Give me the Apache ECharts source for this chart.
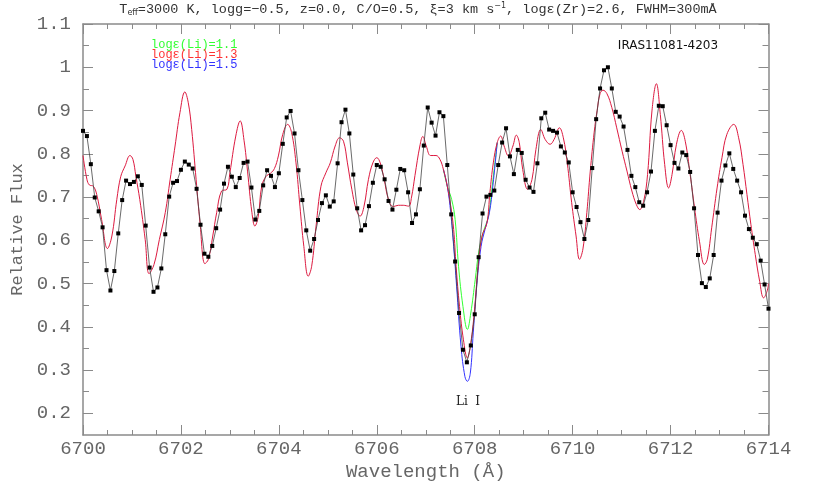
<!DOCTYPE html>
<html>
<head>
<meta charset="utf-8">
<script src="https://cdn.jsdelivr.net/npm/echarts@6.0.0/dist/echarts.min.js"></script>
<style>
  html, body { margin: 0; padding: 0; background: #fff; }
  #lineChart { width: 817px; height: 491px; }
</style>
</head>
<body>
<div id="lineChart"></div>
<script>
// observed spectrum (IRAS11081-4203)
const obsWave = [
  6700.00, 6700.08, 6700.16, 6700.24, 6700.32, 6700.40, 6700.48, 6700.56, 6700.64, 6700.72,
  6700.80, 6700.88, 6700.96, 6701.04, 6701.12, 6701.20, 6701.28, 6701.36, 6701.44, 6701.52,
  6701.60, 6701.68, 6701.76, 6701.84, 6701.92, 6702.00, 6702.08, 6702.16, 6702.24, 6702.32,
  6702.40, 6702.48, 6702.56, 6702.64, 6702.72, 6702.80, 6702.88, 6702.96, 6703.04, 6703.12,
  6703.20, 6703.28, 6703.36, 6703.44, 6703.52, 6703.60, 6703.68, 6703.76, 6703.84, 6703.92,
  6704.00, 6704.08, 6704.16, 6704.24, 6704.32, 6704.40, 6704.48, 6704.56, 6704.64, 6704.72,
  6704.80, 6704.88, 6704.96, 6705.04, 6705.12, 6705.20, 6705.28, 6705.36, 6705.44, 6705.52,
  6705.60, 6705.68, 6705.76, 6705.84, 6705.92, 6706.00, 6706.08, 6706.16, 6706.24, 6706.32,
  6706.40, 6706.48, 6706.56, 6706.64, 6706.72, 6706.80, 6706.88, 6706.96, 6707.04, 6707.12,
  6707.20, 6707.28, 6707.36, 6707.44, 6707.52, 6707.60, 6707.68, 6707.76, 6707.84, 6707.92,
  6708.00, 6708.08, 6708.16, 6708.24, 6708.32, 6708.40, 6708.48, 6708.56, 6708.64, 6708.72,
  6708.80, 6708.88, 6708.96, 6709.04, 6709.12, 6709.20, 6709.28, 6709.36, 6709.44, 6709.52,
  6709.60, 6709.68, 6709.76, 6709.84, 6709.92, 6710.00, 6710.08, 6710.16, 6710.24, 6710.32,
  6710.40, 6710.48, 6710.56, 6710.64, 6710.72, 6710.80, 6710.88, 6710.96, 6711.04, 6711.12,
  6711.20, 6711.28, 6711.36, 6711.44, 6711.52, 6711.60, 6711.68, 6711.76, 6711.84, 6711.92,
  6712.00, 6712.08, 6712.16, 6712.24, 6712.32, 6712.40, 6712.48, 6712.56, 6712.64, 6712.72,
  6712.80, 6712.88, 6712.96, 6713.04, 6713.12, 6713.20, 6713.28, 6713.36, 6713.44, 6713.52,
  6713.60, 6713.68, 6713.76, 6713.84, 6713.92, 6714.00
];
const obsFlux = [
  0.853, 0.841, 0.776, 0.699, 0.667, 0.630, 0.531, 0.484, 0.529, 0.616,
  0.693, 0.738, 0.730, 0.735, 0.748, 0.728, 0.634, 0.537, 0.481, 0.491,
  0.535, 0.614, 0.701, 0.733, 0.737, 0.763, 0.782, 0.775, 0.766, 0.719,
  0.636, 0.569, 0.562, 0.587, 0.628, 0.671, 0.731, 0.770, 0.747, 0.723,
  0.744, 0.779, 0.782, 0.722, 0.648, 0.668, 0.727, 0.762, 0.749, 0.723,
  0.755, 0.823, 0.884, 0.899, 0.847, 0.762, 0.693, 0.623, 0.576, 0.603,
  0.647, 0.686, 0.704, 0.678, 0.690, 0.778, 0.873, 0.902, 0.847, 0.752,
  0.674, 0.623, 0.635, 0.679, 0.733, 0.774, 0.770, 0.741, 0.691, 0.671,
  0.717, 0.765, 0.762, 0.711, 0.640, 0.660, 0.718, 0.819, 0.907, 0.872,
  0.842, 0.896, 0.887, 0.774, 0.660, 0.551, 0.432, 0.347, 0.318, 0.357,
  0.429, 0.561, 0.662, 0.701, 0.705, 0.715, 0.774, 0.826, 0.859, 0.794,
  0.753, 0.809, 0.802, 0.740, 0.722, 0.712, 0.778, 0.882, 0.895, 0.856,
  0.853, 0.849, 0.817, 0.803, 0.780, 0.711, 0.677, 0.642, 0.603, 0.647,
  0.767, 0.880, 0.951, 0.993, 1.000, 0.951, 0.897, 0.886, 0.863, 0.809,
  0.749, 0.723, 0.688, 0.680, 0.711, 0.759, 0.853, 0.911, 0.910, 0.866,
  0.820, 0.779, 0.766, 0.803, 0.797, 0.758, 0.674, 0.566, 0.501, 0.492,
  0.512, 0.566, 0.664, 0.738, 0.773, 0.801, 0.765, 0.738, 0.711, 0.657,
  0.626, 0.606, 0.591, 0.553, 0.498, 0.442
];

// synthetic spectrum, logε(Li)=1.3 (the other two coincide with it away from the Li line)
const modelWave = [
  6700.00, 6700.08, 6700.13, 6700.21, 6700.28, 6700.38, 6700.50, 6700.59, 6700.69, 6700.77,
  6700.86, 6700.96, 6701.02, 6701.08, 6701.16, 6701.27, 6701.35, 6701.45, 6701.56, 6701.68,
  6701.78, 6701.88, 6701.98, 6702.08, 6702.15, 6702.22, 6702.31, 6702.39, 6702.49, 6702.56,
  6702.65, 6702.73, 6702.83, 6702.94, 6703.00, 6703.12, 6703.21, 6703.29, 6703.36, 6703.45,
  6703.51, 6703.58, 6703.65, 6703.74, 6703.83, 6703.91, 6703.99, 6704.08, 6704.18, 6704.26,
  6704.35, 6704.43, 6704.51, 6704.60, 6704.67, 6704.76, 6704.86, 6704.96, 6705.05, 6705.15,
  6705.24, 6705.32, 6705.40, 6705.49, 6705.58, 6705.66, 6705.74, 6705.83, 6705.92, 6706.00,
  6706.07, 6706.15, 6706.24, 6706.34, 6706.44, 6706.54, 6706.65, 6706.71, 6706.78, 6706.88,
  6706.94, 6707.01, 6707.10, 6707.21, 6707.29, 6707.36, 6707.44, 6707.51, 6707.57, 6707.62,
  6707.69, 6707.77, 6707.85, 6707.92, 6707.99, 6708.07, 6708.15, 6708.25, 6708.31, 6708.38,
  6708.46, 6708.53, 6708.60, 6708.69, 6708.78, 6708.85, 6708.91, 6708.98, 6709.08, 6709.17,
  6709.25, 6709.35, 6709.44, 6709.54, 6709.62, 6709.73, 6709.81, 6709.89, 6709.98, 6710.07,
  6710.14, 6710.21, 6710.29, 6710.36, 6710.44, 6710.50, 6710.56, 6710.62, 6710.70, 6710.80,
  6710.90, 6711.01, 6711.11, 6711.21, 6711.30, 6711.37, 6711.45, 6711.53, 6711.62, 6711.71,
  6711.79, 6711.88, 6711.96, 6712.03, 6712.12, 6712.22, 6712.30, 6712.40, 6712.49, 6712.59,
  6712.69, 6712.75, 6712.84, 6712.95, 6713.05, 6713.15, 6713.29, 6713.39, 6713.48, 6713.56,
  6713.64, 6713.73, 6713.82, 6713.90, 6713.97, 6714.00
];
const fluxLi13 = [
  0.796, 0.741, 0.728, 0.725, 0.706, 0.648, 0.581, 0.610, 0.694, 0.747,
  0.772, 0.796, 0.787, 0.748, 0.694, 0.602, 0.523, 0.544, 0.602, 0.664,
  0.741, 0.818, 0.895, 0.943, 0.918, 0.856, 0.741, 0.640, 0.546, 0.556,
  0.610, 0.664, 0.714, 0.718, 0.756, 0.841, 0.876, 0.830, 0.760, 0.664,
  0.633, 0.656, 0.725, 0.748, 0.755, 0.766, 0.795, 0.845, 0.868, 0.849,
  0.779, 0.679, 0.586, 0.517, 0.540, 0.633, 0.725, 0.756, 0.779, 0.818,
  0.837, 0.829, 0.779, 0.718, 0.671, 0.656, 0.679, 0.741, 0.779, 0.791,
  0.779, 0.741, 0.694, 0.678, 0.681, 0.681, 0.679, 0.700, 0.750, 0.818,
  0.840, 0.818, 0.796, 0.796, 0.787, 0.764, 0.725, 0.679, 0.625, 0.540,
  0.447, 0.370, 0.328, 0.363, 0.432, 0.540, 0.610, 0.640, 0.710, 0.779,
  0.826, 0.841, 0.818, 0.795, 0.818, 0.843, 0.826, 0.764, 0.718, 0.741,
  0.810, 0.856, 0.833, 0.822, 0.833, 0.860, 0.837, 0.779, 0.687, 0.610,
  0.556, 0.580, 0.664, 0.760, 0.850, 0.900, 0.939, 0.947, 0.939, 0.907,
  0.860, 0.806, 0.760, 0.714, 0.683, 0.671, 0.690, 0.752, 0.899, 0.962,
  0.891, 0.775, 0.721, 0.752, 0.822, 0.854, 0.829, 0.752, 0.675, 0.598,
  0.544, 0.556, 0.629, 0.721, 0.791, 0.845, 0.868, 0.837, 0.775, 0.706,
  0.637, 0.567, 0.505, 0.467, 0.482, 0.500
];

// logε(Li)=1.1 and 1.5 around the Li I 6707.8 line
const waveLi11 = [6707.36, 6707.44, 6707.53, 6707.60, 6707.67, 6707.76, 6707.85, 6707.92, 6708.01, 6708.08, 6708.17, 6708.28, 6708.35, 6708.46];
const fluxLi11 = [0.764, 0.725, 0.694, 0.648, 0.540, 0.447, 0.394, 0.432, 0.509, 0.571, 0.617, 0.656, 0.718, 0.826];
const waveLi15 = [6707.36, 6707.44, 6707.51, 6707.57, 6707.63, 6707.72, 6707.80, 6707.85, 6707.91, 6707.97, 6708.04, 6708.13, 6708.21, 6708.30, 6708.37, 6708.46];
const fluxLi15 = [0.764, 0.725, 0.664, 0.586, 0.494, 0.355, 0.285, 0.274, 0.293, 0.386, 0.494, 0.586, 0.625, 0.664, 0.725, 0.826];

const yMajorTicks = [0.2, 0.3, 0.4, 0.5, 0.6, 0.7, 0.8, 0.9, 1.0, 1.1];
const yMinorTicks = [0.25, 0.35, 0.45, 0.55, 0.65, 0.75, 0.85, 0.95, 1.05];
const legendLabels = ['logε(Li)=1.1', 'logε(Li)=1.3', 'logε(Li)=1.5'];

const axisGray = '#8a8a8a';
const labelGray = '#666';
const tickFont = 'Liberation Mono';

function pairs(xs, ys) {
  return xs.map((x, i) => [x, ys[i]]);
}

function xAxisCfg(pos, showLabel) {
  return {
    type: 'value', position: pos, min: 6700, max: 6714, interval: 2,
    axisLine: { onZero: false, lineStyle: { color: axisGray, width: 1.5 } },
    axisTick: { inside: true, length: 10, lineStyle: { color: axisGray } },
    minorTick: { show: true, splitNumber: 4, length: 5, lineStyle: { color: axisGray } },
    splitLine: { show: false },
    axisLabel: {
      show: showLabel, formatter: v => String(v), color: labelGray,
      fontFamily: tickFont, fontSize: 19, margin: 4
    },
    name: showLabel ? 'Wavelength (Å)' : '',
    nameLocation: 'middle', nameGap: 25,
    nameTextStyle: { color: labelGray, fontFamily: tickFont, fontSize: 19 }
  };
}

function yAxisCfg(pos, ticks, len, showLine, showLabel) {
  return {
    type: 'value', position: pos, min: 0.15, max: 1.1,
    axisLine: { show: showLine, onZero: false, lineStyle: { color: axisGray, width: 1.5 } },
    axisTick: { inside: true, length: len, customValues: ticks, lineStyle: { color: axisGray } },
    splitLine: { show: false },
    axisLabel: {
      show: showLabel, customValues: ticks, formatter: v => String(+v.toFixed(2)),
      color: labelGray, fontFamily: tickFont, fontSize: 19, margin: 12
    },
    name: showLabel ? 'Relative Flux' : '',
    nameLocation: 'middle', nameGap: 56, nameRotate: 90,
    nameTextStyle: { color: labelGray, fontFamily: tickFont, fontSize: 17 }
  };
}

let chart = echarts.init(document.getElementById('lineChart'));
chart.setOption({
  backgroundColor: '#fff',
  animation: false,
  grid: { left: 83, right: 48.5, top: 24, bottom: 56 },
  xAxis: [xAxisCfg('bottom', true), xAxisCfg('top', false)],
  yAxis: [
    yAxisCfg('left', yMajorTicks, 10, true, true),
    yAxisCfg('left', yMinorTicks, 6, false, false),
    yAxisCfg('right', yMajorTicks, 10, true, false),
    yAxisCfg('right', yMinorTicks, 6, false, false)
  ],
  graphic: [
    {
      type: 'text', x: 418, y: 9,
      style: {
        text: '{a|T}{s|eff}{a|=3000 K, logg=−0.5, z=0.0, C/O=0.5, ξ=3 km s}{u|−1}{a|, logε(Zr)=2.6, FWHM=300mÅ}',
        align: 'center', verticalAlign: 'middle',
        rich: {
          a: { fontFamily: 'Liberation Mono', fontSize: 13.5, fill: '#333' },
          s: { fontFamily: 'DejaVu Sans', fontSize: 8, fill: '#333', padding: [8, 0, 0, 0] },
          u: { fontFamily: 'DejaVu Sans', fontSize: 8, fill: '#333', padding: [0, 0, 7, 0] }
        }
      }
    },
    { type: 'text', x: 151, y: 44.5, style: { text: legendLabels[0], fill: '#33ff33', font: '12px "Liberation Mono"', verticalAlign: 'middle' } },
    { type: 'text', x: 151, y: 54.5, style: { text: legendLabels[1], fill: '#ff3333', font: '12px "Liberation Mono"', verticalAlign: 'middle' } },
    { type: 'text', x: 151, y: 64.5, style: { text: legendLabels[2], fill: '#3333ff', font: '12px "Liberation Mono"', verticalAlign: 'middle' } },
    { type: 'text', x: 668, y: 46, style: { text: 'IRAS11081-4203', fill: '#111', font: '12px "DejaVu Sans"', align: 'center', verticalAlign: 'middle' } },
    { type: 'text', x: 468, y: 402, style: { text: 'Li  I', fill: '#222', font: '12px "DejaVu Serif"', align: 'center', verticalAlign: 'middle' } }
  ],
  series: [
    {
      name: 'logε(Li)=1.1', type: 'line', data: pairs(waveLi11, fluxLi11),
      showSymbol: false, smooth: 0.4, lineStyle: { color: '#33ff33', width: 1 }
    },
    {
      name: 'logε(Li)=1.5', type: 'line', data: pairs(waveLi15, fluxLi15),
      showSymbol: false, smooth: 0.4, lineStyle: { color: '#3333ff', width: 1 }
    },
    {
      name: 'logε(Li)=1.3', type: 'line', data: pairs(modelWave, fluxLi13),
      showSymbol: false, smooth: 0.4, lineStyle: { color: '#dd1a40', width: 1 }
    },
    {
      name: 'IRAS11081-4203', type: 'line', data: pairs(obsWave, obsFlux),
      symbol: 'rect', symbolSize: 4, itemStyle: { color: '#000' },
      lineStyle: { color: '#444', width: 0.8 }
    }
  ]
});
</script>
</body>
</html>
